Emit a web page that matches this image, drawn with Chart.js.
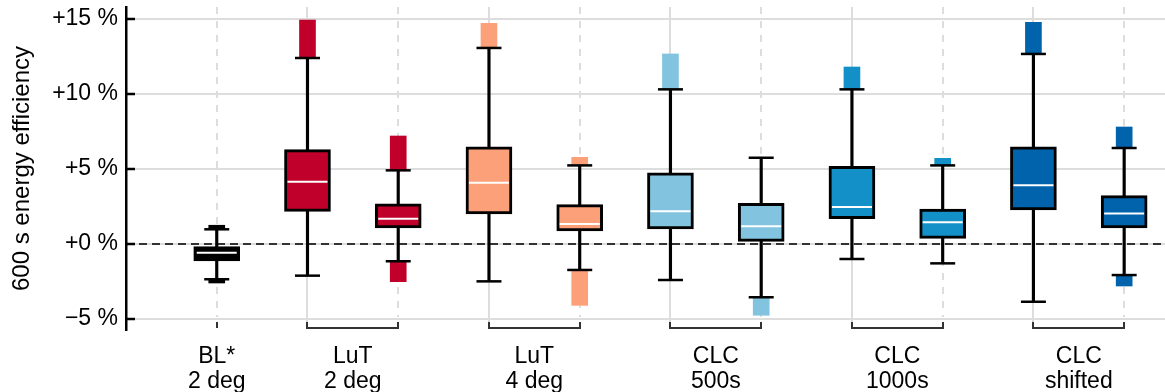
<!DOCTYPE html>
<html>
<head>
<meta charset="utf-8">
<script src="https://cdn.jsdelivr.net/npm/chart.js@4.4.1/dist/chart.umd.min.js"></script>
<style>
  html, body { margin: 0; padding: 0; background: #fff; }
  #wrap { width: 1165px; height: 392px; }
</style>
</head>
<body>
<div id="wrap"><canvas id="boxChart"></canvas></div>
<script>
// one entry per box, left to right (x index = position in these arrays)
const boxGroup   = [0, 1, 1, 2, 2, 3, 3, 4, 4, 5, 5];
const q1         = [-1.13, 2.18, 1.07, 2.00, 0.87, 1.00, 0.18, 1.69, 0.38, 2.27, 1.07];
const median     = [-0.58, 4.15, 1.69, 4.09, 1.33, 2.18, 1.18, 2.47, 1.45, 3.91, 2.04];
const q3         = [-0.18, 6.29, 2.67, 6.47, 2.62, 4.75, 2.71, 5.18, 2.33, 6.47, 3.22];
const whiskerLo  = [-2.35, -2.11, -1.15, -2.49, -1.73, -2.40, -3.55, -1.00, -1.29, -3.85, -2.07];
const whiskerHi  = [0.98, 12.40, 4.91, 13.07, 5.24, 10.31, 5.75, 10.31, 5.24, 12.67, 6.40];
const outlierHi  = [1.25, 14.93, 7.20, 14.71, 5.78, 12.67, null, 11.80, 5.71, 14.78, 7.80];
const outlierLo  = [-2.60, null, -2.51, null, -4.09, null, -4.75, null, null, null, -2.80];

const groupLabels = [['BL*', '2 deg'], ['LuT', '2 deg'], ['LuT', '4 deg'], ['CLC', '500s'], ['CLC', '1000s'], ['CLC', 'shifted']];
const groupColors = ['#000000', '#c0002a', '#fca07a', '#82c4df', '#1490c8', '#0063ac'];

const yTicks = [-5, 0, 5, 10, 15];

const FONT = "'Liberation Sans', Arial, sans-serif";

function groupFirst(g) { return boxGroup.indexOf(g); }
function groupLast(g) { return boxGroup.lastIndexOf(g); }
function groupCenter(g) { return (groupFirst(g) + groupLast(g)) / 2; }

const boxData = [], stemData = [], capData = [], medData = [], outData = [], outColors = [];
for (let i = 0; i < q1.length; i++) {
  boxData.push({x: i, y: [q1[i], q3[i]]});
  stemData.push({x: i, y: [whiskerLo[i], whiskerHi[i]]});
  capData.push({x: i, y: whiskerLo[i]}, {x: i, y: whiskerHi[i]});
  medData.push({x: i, y: median[i]});
  if (outlierHi[i] !== null) {
    outData.push({x: i, y: [whiskerHi[i], outlierHi[i]]});
    outColors.push(groupColors[boxGroup[i]]);
  }
  if (outlierLo[i] !== null) {
    outData.push({x: i, y: [outlierLo[i], whiskerLo[i]]});
    outColors.push(groupColors[boxGroup[i]]);
  }
}

// grid verticals, zero line, inward ticks, group brackets
const decorPlugin = {
  id: 'decor',
  beforeDatasetsDraw(chart) {
    const {ctx, chartArea, scales} = chart;
    const x = scales.x, y = scales.y;
    ctx.save();
    ctx.strokeStyle = '#dddddd';
    ctx.lineWidth = 2;
    for (let i = 0; i < q1.length; i++) {
      const px = Math.round(x.getPixelForValue(i));
      const first = groupFirst(boxGroup[i]) === i && groupLast(boxGroup[i]) !== i;
      ctx.setLineDash(first ? [] : [7, 7]);
      ctx.beginPath();
      ctx.moveTo(px, chartArea.top);
      ctx.lineTo(px, first ? chartArea.bottom - 2 : y.getPixelForValue(-5) - 2);
      ctx.stroke();
    }
    ctx.strokeStyle = '#333333';
    ctx.setLineDash([8, 5]);
    const zy = y.getPixelForValue(0);
    ctx.beginPath();
    ctx.moveTo(chartArea.left, zy);
    ctx.lineTo(chartArea.right, zy);
    ctx.stroke();
    ctx.restore();
  },
  afterDraw(chart) {
    const {ctx, chartArea, scales} = chart;
    const x = scales.x, y = scales.y;
    ctx.save();
    ctx.strokeStyle = '#000';
    ctx.lineWidth = 2.5;
    yTicks.forEach(v => {
      const py = y.getPixelForValue(v);
      ctx.beginPath();
      ctx.moveTo(chartArea.left, py);
      ctx.lineTo(chartArea.left + 9, py);
      ctx.stroke();
    });
    ctx.strokeStyle = '#333';
    ctx.lineWidth = 2;
    const by = chartArea.bottom - 2;
    groupLabels.forEach((lbl, g) => {
      const xa = Math.round(x.getPixelForValue(groupFirst(g)));
      const xb = Math.round(x.getPixelForValue(groupLast(g)));
      ctx.beginPath();
      ctx.moveTo(xa, by - 6);
      ctx.lineTo(xa, by);
      ctx.lineTo(xb, by);
      ctx.lineTo(xb, by - 6);
      ctx.stroke();
    });
    ctx.restore();
  }
};

new Chart(document.getElementById('boxChart'), {
  type: 'bar',
  data: {
    datasets: [
      {
        type: 'scatter',
        data: medData,
        pointStyle: 'line',
        pointRadius: 20,
        borderColor: '#ffffff',
        borderWidth: 2,
        order: 1
      },
      {
        type: 'scatter',
        data: capData,
        pointStyle: 'line',
        pointRadius: 12.5,
        borderColor: '#000000',
        borderWidth: 2.5,
        order: 2
      },
      {
        data: boxData,
        backgroundColor: boxGroup.map(g => groupColors[g]),
        borderColor: '#000000',
        borderWidth: 3,
        borderSkipped: false,
        barThickness: 46,
        grouped: false,
        order: 3
      },
      {
        data: outData,
        backgroundColor: outColors,
        borderWidth: 0,
        barThickness: 16,
        grouped: false,
        order: 4
      },
      {
        data: stemData,
        backgroundColor: '#000000',
        borderWidth: 0,
        barThickness: 2.5,
        grouped: false,
        order: 5
      }
    ]
  },
  options: {
    responsive: true,
    maintainAspectRatio: false,
    animation: false,
    events: [],
    layout: { autoPadding: false, padding: { top: 7, right: 0, left: 0, bottom: 0 } },
    plugins: { legend: { display: false }, tooltip: { enabled: false } },
    scales: {
      x: {
        type: 'linear',
        offset: false,
        min: -1.0,
        max: 10.45,
        grid: { display: false },
        border: { display: false },
        afterBuildTicks: axis => { axis.ticks = groupLabels.map((l, g) => ({value: groupCenter(g)})); },
        afterFit: axis => { axis.height = 62; axis.paddingLeft = 0; axis.paddingRight = 0; },
        ticks: {
          autoSkip: false,
          maxRotation: 0,
          padding: 7,
          color: '#000',
          font: { family: FONT, size: 23, lineHeight: 1.05 },
          callback: (v, idx) => groupLabels[idx]
        }
      },
      y: {
        min: -5.733,
        max: 15.8,
        afterBuildTicks: axis => { axis.ticks = yTicks.map(v => ({value: v})); },
        afterFit: axis => { axis.width = 126; axis.paddingTop = 0; axis.paddingBottom = 0; },
        grid: { color: '#dddddd', lineWidth: 2, drawTicks: false },
        border: { display: true, color: '#000', width: 2.5 },
        ticks: {
          padding: 8,
          color: '#000',
          font: { family: FONT, size: 23 },
          callback: v => (v < 0 ? '\u2212' + Math.abs(v) : '+' + v) + ' %'
        },
        title: {
          display: true,
          text: '600 s energy efficiency',
          color: '#000',
          font: { family: FONT, size: 24 },
          padding: { top: 8, bottom: 4 }
        }
      }
    }
  },
  plugins: [decorPlugin]
});
</script>
</body>
</html>
